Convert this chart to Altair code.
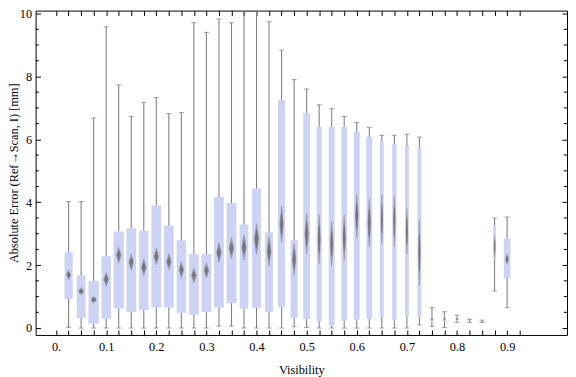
import altair as alt
import pandas as pd

# ---- data (Visibility bins of width 0.025) ----
vis = [0.025, 0.05, 0.075, 0.1, 0.125, 0.15, 0.175, 0.2, 0.225, 0.25,
       0.275, 0.3, 0.325, 0.35, 0.375, 0.4, 0.425, 0.45, 0.475, 0.5,
       0.525, 0.55, 0.575, 0.6, 0.625, 0.65, 0.675, 0.7, 0.725, 0.75,
       0.775, 0.8, 0.825, 0.85, 0.875, 0.9]
whisker_lo = [0.02, 0.0, 0.0, 0.0, 0.0, 0.0, 0.0, 0.0, 0.0, 0.0,
              0.0, 0.0, 0.06, 0.06, 0.0, 0.0, 0.0, 0.0, 0.04, 0.02,
              0.0, 0.0, 0.0, 0.0, 0.0, 0.0, 0.0, 0.0, 0.1, 0.05,
              0.02, 0.18, 0.18, 0.18, 1.18, 0.65]
q1 = [0.92, 0.32, 0.14, 0.29, 0.62, 0.51, 0.57, 0.65, 0.65, 0.48,
      0.42, 0.51, 0.65, 0.79, 0.61, 0.64, 0.51, 0.66, 0.33, 0.29,
      0.20, 0.08, 0.23, 0.26, 0.29, 0.35, 0.23, 0.35, 0.35, 0.21,
      0.21, 0.23, 0.22, 0.20, 2.19, 1.58]
median = [1.69, 1.17, 0.90, 1.55, 2.32, 2.09, 1.93, 2.28, 2.11, 1.85,
          1.67, 1.83, 2.40, 2.54, 2.57, 2.83, 2.45, 3.30, 2.19, 3.00,
          2.82, 2.68, 2.88, 3.57, 3.34, 3.45, 3.40, 3.08, 2.40, 0.29,
          0.29, 0.29, 0.23, 0.21, 2.59, 2.19]
q3 = [2.41, 1.68, 1.50, 2.28, 3.07, 3.17, 3.10, 3.90, 3.26, 2.79,
      2.35, 2.35, 4.17, 3.98, 3.29, 4.44, 3.04, 7.24, 2.79, 6.83,
      6.40, 6.40, 6.40, 6.24, 6.08, 5.92, 5.86, 5.80, 5.74, 0.38,
      0.38, 0.35, 0.25, 0.23, 3.26, 2.85]
whisker_hi = [4.02, 4.02, 6.68, 9.58, 7.73, 6.73, 7.17, 7.33, 6.82, 6.85,
              9.71, 9.40, 9.83, 9.71, 10.06, 10.06, 9.74, 8.84, 7.90, 7.60,
              7.10, 6.98, 6.73, 6.54, 6.38, 6.13, 6.13, 6.16, 6.07, 0.65,
              0.52, 0.41, 0.28, 0.25, 3.50, 3.53]
# half-height of the median confidence diamond
notch = [0.15, 0.11, 0.10, 0.22, 0.25, 0.25, 0.26, 0.26, 0.25, 0.25,
         0.23, 0.23, 0.31, 0.33, 0.40, 0.49, 0.47, 0.57, 0.51, 0.64,
         0.78, 0.71, 0.72, 0.70, 0.76, 0.78, 0.81, 0.73, 1.04, 0.04,
         0.04, 0.03, 0.01, 0.01, 0.34, 0.16]
# relative sample weight of each bin (drives box width)
sample_n = [83, 90, 105, 97, 105, 100, 95, 100, 100, 97,
            100, 100, 100, 100, 88, 90, 80, 72, 72, 70,
            53, 60, 58, 60, 60, 40, 43, 40, 40, 30,
            30, 30, 20, 20, 30, 67]

x_ticks = [round(0.025 * k, 3) for k in range(38)]
y_major = [0, 2, 4, 6, 8, 10]
y_minor = [v / 2 for v in range(0, 20) if v % 4 != 0]

df = pd.DataFrame(dict(vis=vis, lo=whisker_lo, q1=q1, med=median, q3=q3,
                       hi=whisker_hi, n=sample_n))

rows = []
for v, m, h, n in zip(vis, median, notch, sample_n):
    w = min(5.5, 0.06 * n)
    for layer, hf, wf in (("outer", 1.0, 1.0), ("inner", 0.55, 0.7)):
        rows.append(dict(vis=v, y=m - h * hf, w=0, k=0, layer=layer))
        rows.append(dict(vis=v, y=m, w=w * wf, k=1, layer=layer))
        rows.append(dict(vis=v, y=m + h * hf, w=0, k=2, layer=layer))
dd = pd.DataFrame(rows)
minor_df = pd.DataFrame(dict(v=y_minor))

W, H = 539, 329
FONT = "Liberation Serif"
FS = 12.5
GRAY = "#808080"

xscale = alt.Scale(domain=[-0.031, 1.0097], nice=False, zero=False)
yscale = alt.Scale(domain=[-0.22, 10.094], nice=False, zero=False)

label_expr = ("abs(datum.value*10 - round(datum.value*10)) < 0.001 ? "
              "(datum.value == 0 ? '0.' : format(datum.value, '.1f')) : ''")

x_bottom = alt.Axis(orient="bottom", values=x_ticks, tickSize=5, offset=-5,
                    domain=False, grid=False, labelExpr=label_expr,
                    labelOverlap=False, labelFlush=False, labelPadding=6,
                    labelFont=FONT, labelFontSize=FS, labelColor="black",
                    tickColor="black", title="Visibility", titleFont=FONT,
                    titleFontSize=FS, titleFontWeight="normal",
                    titleColor="black", titlePadding=11)
x_top = alt.Axis(orient="top", values=x_ticks, tickSize=5, offset=-5,
                 domain=False, grid=False, labels=False, tickColor="black",
                 title=None)
y_left = alt.Axis(orient="left", values=y_major, tickSize=5, offset=-5,
                  domain=False, grid=False, labelPadding=4, labelFont=FONT,
                  labelFontSize=FS, labelColor="black", tickColor="black",
                  title="Absolute Error (Ref\u2192Scan, I) [mm]",
                  titleFont=FONT, titleFontSize=FS, titleFontWeight="normal",
                  titleColor="black", titleX=-27, titleBaseline="middle")
y_right = alt.Axis(orient="right", values=y_major, tickSize=5, offset=-5,
                   domain=False, grid=False, labels=False, tickColor="black",
                   title=None)

base = alt.Chart(df)

whiskers = base.mark_rule(color=GRAY, strokeWidth=1.1).encode(
    x=alt.X("vis:Q", scale=xscale, axis=x_bottom),
    y=alt.Y("lo:Q", scale=yscale, axis=y_left),
    y2="hi:Q",
)
caps_hi = base.mark_tick(orient="horizontal", color=GRAY, size=5,
                         thickness=1.1).encode(
    x=alt.X("vis:Q", scale=xscale, axis=x_top),
    y=alt.Y("hi:Q", scale=yscale, axis=y_right),
)
caps_lo = base.mark_tick(orient="horizontal", color=GRAY, size=5,
                         thickness=1.1).encode(
    x=alt.X("vis:Q", scale=xscale, axis=None),
    y=alt.Y("lo:Q", scale=yscale, axis=None),
)
boxes = base.mark_bar(color="#cdd3f5").encode(
    x=alt.X("vis:Q", scale=xscale, axis=None),
    y=alt.Y("q1:Q", scale=yscale, axis=None),
    y2="q3:Q",
    size=alt.Size("n:Q", scale=alt.Scale(domain=[0, 100], range=[0, 10]),
                  legend=None),
)
diamonds_outer = alt.Chart(dd).transform_filter(
    alt.datum.layer == "outer"
).mark_trail(color="#7a7a7a", opacity=0.6).encode(
    x=alt.X("vis:Q", scale=xscale, axis=None),
    y=alt.Y("y:Q", scale=yscale, axis=None),
    size=alt.Size("w:Q", scale=None, legend=None),
    detail="vis:N",
    order="k:Q",
)
diamonds_inner = alt.Chart(dd).transform_filter(
    alt.datum.layer == "inner"
).mark_trail(color="#707070", opacity=0.85).encode(
    x=alt.X("vis:Q", scale=xscale, axis=None),
    y=alt.Y("y:Q", scale=yscale, axis=None),
    size=alt.Size("w:Q", scale=None, legend=None),
    detail="vis:N",
    order="k:Q",
)
minor_l = alt.Chart(minor_df).mark_rule(color="black", strokeWidth=1).encode(
    y=alt.Y("v:Q", scale=yscale, axis=None),
    x=alt.value(0), x2=alt.value(3.3),
)
minor_r = alt.Chart(minor_df).mark_rule(color="black", strokeWidth=1).encode(
    y=alt.Y("v:Q", scale=yscale, axis=None),
    x=alt.value(W - 3.3), x2=alt.value(W),
)

chart = alt.layer(
    whiskers, caps_hi, caps_lo, boxes, diamonds_outer, diamonds_inner,
    minor_l, minor_r
).resolve_axis(
    x="independent", y="independent"
).resolve_scale(
    size="independent"
).properties(
    width=W, height=H,
    autosize=alt.AutoSizeParams(type="none"),
    padding={"left": 28, "top": 0, "right": 1, "bottom": 40},
    background="white",
).configure_view(stroke="black", strokeWidth=1)

chart.save("out.html", embed_options={"renderer": "svg", "actions": False})
